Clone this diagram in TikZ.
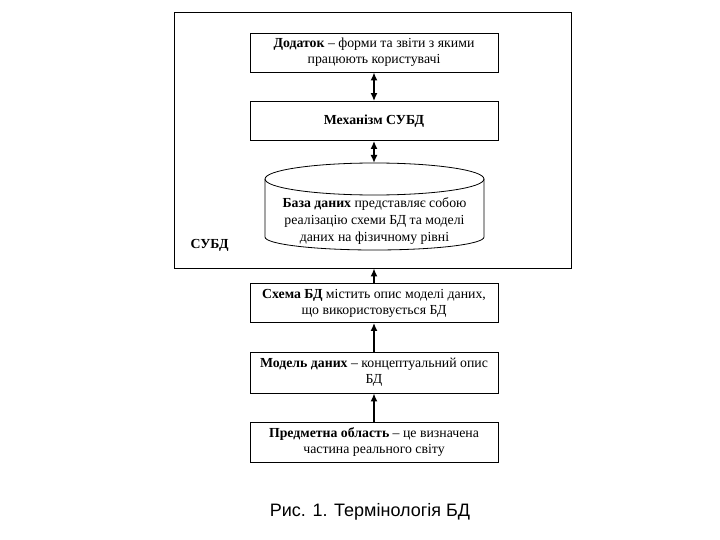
\documentclass[tikz,border=0pt]{standalone}
\usepackage{fontspec}
\setmainfont{Liberation Serif}
\newfontfamily\capfont{Liberation Sans}
\usetikzlibrary{arrows.meta}
\begin{document}
\begin{tikzpicture}[x=1pt,y=-1pt,
  lbox/.style={draw,line width=0.8pt,minimum width=248pt,minimum height=39pt,inner sep=0pt,
    align=center,font=\fontsize{13.8}{16}\selectfont},
  conn/.style={line width=1.8pt,-{Latex[length=8pt,width=7pt]}},
  bconn/.style={line width=1.8pt,{Latex[length=8pt,width=7pt]}-{Latex[length=8pt,width=7pt]}}]
\useasboundingbox (0,0) rectangle (720,540);
\node[draw,line width=0.8pt,minimum width=397pt,minimum height=256pt,inner sep=0pt] (outer) at (372.5,140) {};
\node[anchor=west,font=\fontsize{13.8}{16}\selectfont\bfseries] (subd) at (187,245) {СУБД};
\node[lbox] (app) at (374,52.5) {\textbf{Додаток} – форми та звіти з якими\\працюють користувачі};
\node[lbox] (mech) at (374,121) {\textbf{Механізм СУБД}};
% cylinder
\draw[line width=0.8pt] (374.5,179) ellipse [x radius=109.5, y radius=16];
\draw[line width=0.8pt] (265,179) -- (265,237) arc[start angle=180,end angle=0,x radius=109.5,y radius=13] -- (484,179);
\coordinate (dbtop) at (374.5,163);
\node[align=center,inner sep=0pt,font=\fontsize{13.8}{17}\selectfont] (db) at (374.5,221) {\textbf{База даних} представляє собою\\реалізацію схеми БД та моделі\\даних на фізичному рівні};
\node[lbox] (schema) at (374,303) {\textbf{Схема БД} містить опис моделі даних,\\що використовується БД};
\node[lbox,minimum height=41pt] (model) at (374,372.5) {\textbf{Модель даних} – концептуальний опис\\БД};
\node[lbox,minimum height=40pt] (subj) at (374,442) {\textbf{Предметна область} – це визначена\\частина реального світу};
\node[font=\capfont\fontsize{18}{20}\selectfont] (cap) at (370,512) {Рис. 1. Термінологія БД};
\draw[bconn] (app.south) -- (mech.north);
\draw[bconn] (mech.south) -- (mech.south |- dbtop);
\draw[conn] (schema.north) -- (schema.north |- outer.south);
\draw[conn] (model.north) -- (schema.south);
\draw[conn] (subj.north) -- (model.south);
\end{tikzpicture}
\end{document}
